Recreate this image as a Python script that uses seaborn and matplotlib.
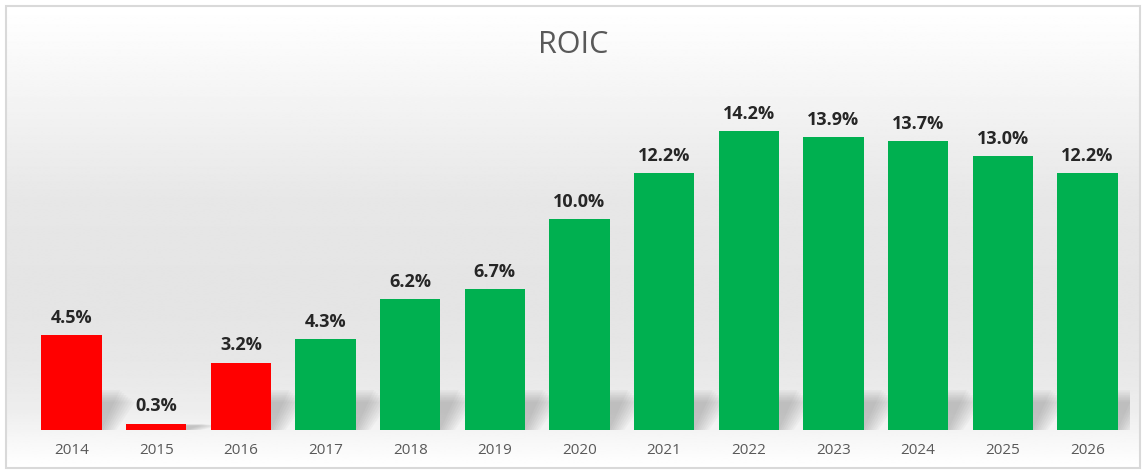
import numpy as np
import pandas as pd
import matplotlib
matplotlib.use("Agg")
import matplotlib.pyplot as plt
from matplotlib.patches import Rectangle, Polygon
import seaborn as sns

years = ["2014", "2015", "2016", "2017", "2018", "2019", "2020",
         "2021", "2022", "2023", "2024", "2025", "2026"]
roic = [4.5, 0.3, 3.2, 4.3, 6.2, 6.7, 10.0, 12.2, 14.2, 13.9, 13.7, 13.0, 12.2]
negative_years = ["2014", "2015", "2016"]

RED = "#ff0000"
GREEN = "#00b050"
colors = [RED if y in negative_years else GREEN for y in years]

df = pd.DataFrame({"year": years, "roic": roic})

sns.set_theme(style="white")
plt.rcParams["font.family"] = ["Open Sans", "DejaVu Sans"]

W, H, DPI = 1147, 474, 100
fig = plt.figure(figsize=(W / DPI, H / DPI), dpi=DPI)

# background gradient panel
bg = fig.add_axes([0, 0, 1, 1], zorder=0)
bg.set_xlim(0, W)
bg.set_ylim(H, 0)
bg.axis("off")
ys = np.array([6, 40, 120, 200, 300, 360, 410, 445, 468])
vs = np.array([1.0, 0.985, 0.945, 0.905, 0.895, 0.905, 0.93, 0.975, 1.0])
yy = np.linspace(6, 468, 400)
grad = np.interp(yy, ys, vs)
img = np.repeat(grad[:, None], 2, axis=1)
bg.imshow(img, cmap="gray", vmin=0, vmax=1, extent=[6, 1140, 468, 6],
          aspect="auto", interpolation="bilinear")
bg.add_patch(Rectangle((6, 6), 1134, 462, fill=False, edgecolor="#d9d9d9", lw=1.5))

# main axes
left = 29.2 / W
right = 1129.8 / W
bottom = (H - 430) / H
ymax = 18.0
top_px = 430 - ymax * 21.06
top = (H - top_px) / H
ax = fig.add_axes([left, bottom, right - left, top - bottom], zorder=1)
ax.patch.set_alpha(0)

sns.barplot(data=df, x="year", y="roic", hue="year", palette=colors,
            legend=False, width=0.71, saturation=1, linewidth=0,
            edgecolor="none", ax=ax, zorder=3)

ax.set_ylim(0, ymax)
ax.set_xlim(-0.5, len(years) - 0.5)

# soft diagonal shadows to the right of each bar base
bars = list(ax.patches)
for p in bars:
    x0 = p.get_x()
    w = p.get_width()
    h = p.get_height()
    sh = min(h, 2.0)
    n = 8
    for k in range(n):
        grow = 0.025 * k
        poly = Polygon([(x0 + w * 0.3 - grow, 0), (x0 + w + grow, 0),
                        (x0 + w + 0.22 + grow, sh * (0.95 - 0.04 * k)),
                        (x0 + w * 0.3 + 0.22 - grow, sh * (0.95 - 0.04 * k))],
                       closed=True, facecolor="#404040", alpha=0.035,
                       edgecolor="none", zorder=2)
        ax.add_patch(poly)

for i, v in enumerate(roic):
    ax.annotate(f"{v:.1f}%", (i, v), xytext=(0, 6), textcoords="offset points",
                ha="center", va="bottom", fontsize=13, fontweight="bold",
                color="#262626", zorder=5)

ax.set_xlabel("")
ax.set_ylabel("")
ax.set_yticks([])
ax.tick_params(axis="x", length=0, pad=9, labelsize=11, labelcolor="#595959")
for s in ax.spines.values():
    s.set_visible(False)

fig.text(573 / W, (H - 45) / H, "ROIC", ha="center", va="center",
         fontsize=22, color="#595959")

fig.savefig("out.png", dpi=DPI)
